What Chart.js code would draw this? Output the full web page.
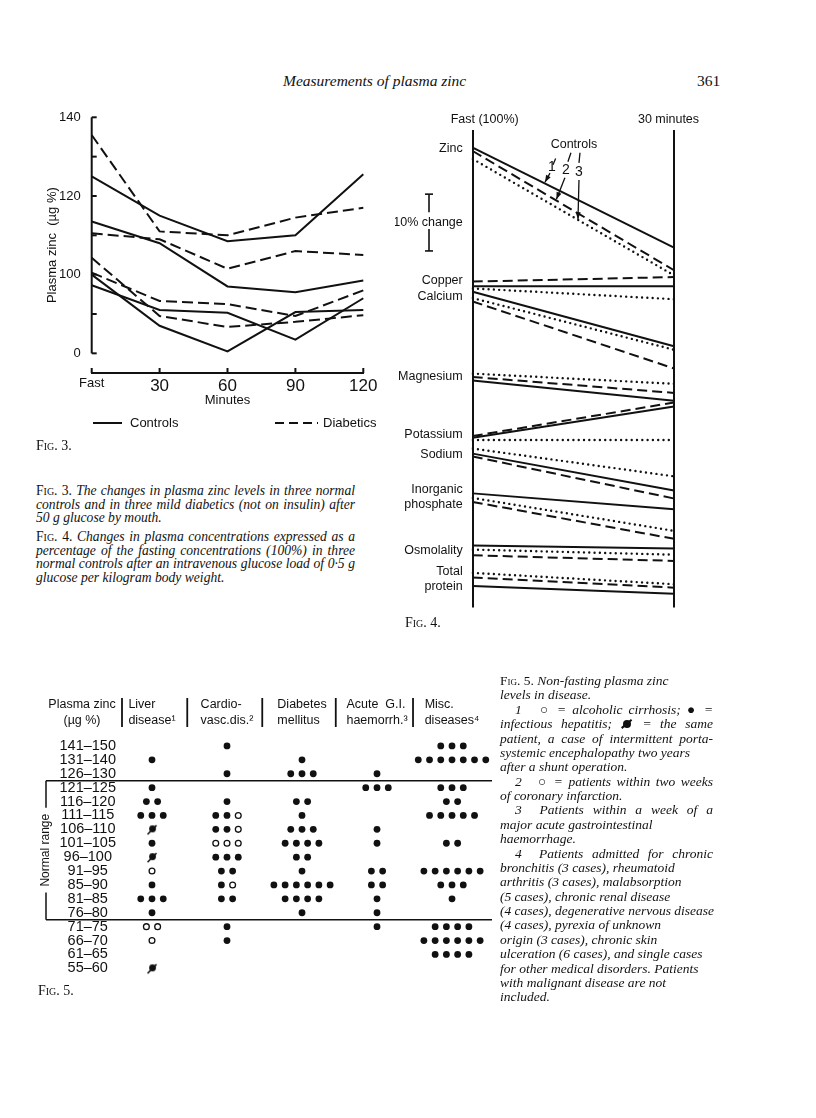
<!DOCTYPE html>
<html>
<head>
<meta charset="utf-8">
<title>Measurements of plasma zinc</title>
<script src="https://cdn.jsdelivr.net/npm/chart.js@4.4.1/dist/chart.umd.min.js"></script>
<style>
  body { margin: 0; background: #fff; }
  #page { position: relative; width: 816px; height: 1118px; overflow: hidden; color: #111; }
  .cv { position: absolute; }
  .serif { position: absolute; font-family: "Liberation Serif", "DejaVu Serif", serif; }
  .runhead { font-style: italic; font-size: 15.5px; line-height: 16px; }
  .pno { font-size: 15.5px; line-height: 16px; }
  .figlab { font-size: 14px; line-height: 14px; }
  .cap { font-style: italic; }
  .cap div { white-space: nowrap; }
  .j { text-align: justify; text-align-last: justify; }
  .sc { font-style: normal; font-variant: small-caps; }
  .rm { font-style: normal; }
  .ind { padding-left: 15px; }
  .xd { display: inline-block; width: 8px; height: 8px; border-radius: 50%; background: #111;
        position: relative; margin: 0 3px 0 2px; }
  .xd::after { content: ""; position: absolute; left: -3px; top: 3px; width: 13px; height: 1.6px;
               background: #111; transform: rotate(-40deg); }
</style>
</head>
<body>
<div id="page">
  <div class="serif runhead" style="left:283px;top:73px;">Measurements of plasma zinc</div>
  <div class="serif pno" style="left:697px;top:73px;">361</div>

  <canvas id="fig3" class="cv" width="370" height="350" style="left:30px;top:95px;"></canvas>
  <canvas id="fig4" class="cv" width="320" height="525" style="left:395px;top:100px;"></canvas>
  <canvas id="fig5" class="cv" width="460" height="300" style="left:40px;top:690px;"></canvas>

  <div class="serif figlab" style="left:36px;top:439px;"><span class="sc">Fig.</span> 3.</div>
  <div class="serif figlab" style="left:405px;top:616px;"><span class="sc">Fig.</span> 4.</div>
  <div class="serif figlab" style="left:38px;top:984px;"><span class="sc">Fig.</span> 5.</div>

  <div class="serif cap" style="left:36px;top:484px;width:319px;line-height:13.6px;font-size:13.6px;">
    <div class="j"><span class="sc">Fig.</span> <span class="rm">3.</span> The changes in plasma zinc levels in three normal</div>
    <div class="j">controls and in three mild diabetics (not on insulin) after</div>
    <div>50 g glucose by mouth.</div>
  </div>
  <div class="serif cap" style="left:36px;top:530px;width:319px;line-height:13.6px;font-size:13.6px;">
    <div class="j"><span class="sc">Fig.</span> <span class="rm">4.</span> Changes in plasma concentrations expressed as a</div>
    <div class="j">percentage of the fasting concentrations (100%) in three</div>
    <div class="j">normal controls after an intravenous glucose load of 0·5 g</div>
    <div>glucose per kilogram body weight.</div>
  </div>

  <div class="serif cap" style="left:500px;top:674px;width:213px;line-height:14.37px;font-size:13.5px;">
    <div><span class="sc">Fig.</span> <span class="rm">5.</span> Non-fasting plasma zinc</div>
    <div>levels in disease.</div>
    <div class="j ind">1&nbsp;&nbsp; ○ = alcoholic cirrhosis; ● =</div>
    <div class="j">infectious hepatitis; <span class="xd"></span> = the same</div>
    <div class="j">patient, a case of intermittent porta-</div>
    <div>systemic encephalopathy two years</div>
    <div>after a shunt operation.</div>
    <div class="j ind">2&nbsp;&nbsp; ○ = patients within two weeks</div>
    <div>of coronary infarction.</div>
    <div class="j ind">3&nbsp; Patients within a week of a</div>
    <div>major acute gastrointestinal</div>
    <div>haemorrhage.</div>
    <div class="j ind">4&nbsp; Patients admitted for chronic</div>
    <div>bronchitis (3 cases), rheumatoid</div>
    <div>arthritis (3 cases), malabsorption</div>
    <div>(5 cases), chronic renal disease</div>
    <div>(4 cases), degenerative nervous disease</div>
    <div>(4 cases), pyrexia of unknown</div>
    <div>origin (3 cases), chronic skin</div>
    <div>ulceration (6 cases), and single cases</div>
    <div>for other medical disorders. Patients</div>
    <div>with malignant disease are not</div>
    <div>included.</div>
  </div>
</div>

<script>
// ---- Fig. 3: plasma zinc (µg %) after 50 g glucose by mouth ----
const fig3Times = ["Fast", "30", "60", "90", "120"];
const control1 = [125, 115, 108.5, 110, 125.5];
const control2 = [113.5, 108, 97, 95.5, 98.5];
const control3 = [100, 87, 80.5, 90.5, 91];
const control4 = [97.3, 91, 90.3, 83.5, 94];
const diabetic1 = [135.5, 111, 110, 114.5, 117];
const diabetic2 = [110.5, 109, 101.5, 106, 105];
const diabetic3 = [104.3, 89.5, 86.7, 88, 89.7];
const diabetic4 = [100.5, 93.3, 92.5, 89.5, 96];
const fig3YTicks = [80, 90, 100, 110, 120, 130, 140];
const fig3YLabels = ["0", "", "100", "", "120", "", "140"];

// ---- Fig. 4: % of fasting level, read as % steps down from the top of the panel ----
const fig4Times = ["Fast (100%)", "30 minutes"];
const fig4Rows = ["Zinc", "Copper", "Calcium", "Magnesium", "Potassium", "Sodium",
  ["Inorganic", "phosphate"], "Osmolality", ["Total", "protein"]];
const fig4RowAt = [3.3, 26.5, 29.3, 43.5, 53.6, 57.1, 64.6, 74.0, 79.1];
const ctrl1Fast = [3.1, 27.5, 28.5, 44.1, 54.2, 57.0, 64.0, 73.2, 80.3];
const ctrl1Thirty = [20.7, 27.5, 38.1, 47.7, 48.7, 63.5, 66.8, 73.7, 81.7];
const ctrl2Fast = [3.7, 26.7, 30.2, 43.5, 53.9, 57.5, 65.5, 74.9, 78.8];
const ctrl2Thirty = [24.7, 25.9, 42.0, 46.3, 48.0, 64.9, 72.0, 75.9, 80.6];
const ctrl3Fast = [5.1, 27.9, 29.6, 42.9, 54.6, 56.1, 64.8, 73.9, 78.0];
const ctrl3Thirty = [25.6, 29.8, 38.7, 44.7, 54.6, 61.0, 70.6, 74.8, 80.0];
const tenPctFrom = 11.3;

// ---- Fig. 5: non-fasting plasma zinc in disease (f = filled, o = open, x = same patient) ----
const zincRanges = ["141–150", "131–140", "126–130", "121–125", "116–120", "111–115",
  "106–110", "101–105", "96–100", "91–95", "85–90", "81–85", "76–80", "71–75",
  "66–70", "61–65", "55–60"];
const normalFirst = 3, normalLast = 12;
const fig5Columns = [["Liver", "disease¹"], ["Cardio-", "vasc.dis.²"], ["Diabetes", "mellitus"],
  ["Acute  G.I.", "haemorrh.³"], ["Misc.", "diseases⁴"]];
const liverDisease = ["", "f", "", "f", "ff", "fff", "x", "f", "x", "o", "f", "fff", "f", "oo", "o", "", "x"];
const cardioVasc = ["f", "", "f", "", "f", "ffo", "ffo", "ooo", "fff", "ff", "fo", "ff", "", "f", "f", "", ""];
const diabetesMellitus = ["", "f", "fff", "", "ff", "f", "fff", "ffff", "ff", "f", "ffffff", "ffff", "f", "", "", "", ""];
const acuteGI = ["", "", "f", "fff", "", "", "f", "f", "", "ff", "ff", "f", "f", "f", "", "", ""];
const miscDiseases = ["fff", "fffffff", "", "fff", "ff", "fffff", "", "ff", "", "ffffff", "fff", "f", "", "ffff", "ffffff", "ffff", ""];

const ink = "#111";
const sans = "'Liberation Sans', Arial, sans-serif";
Chart.defaults.font.family = sans;
Chart.defaults.color = ink;
Chart.defaults.animation = false;

function seg(ctx, x0, y0, x1, y1) {
  ctx.beginPath(); ctx.moveTo(x0, y0); ctx.lineTo(x1, y1); ctx.stroke();
}
function arrow(ctx, x0, y0, x1, y1) {
  seg(ctx, x0, y0, x1, y1);
  const a = Math.atan2(y1 - y0, x1 - x0);
  ctx.beginPath();
  ctx.moveTo(x1, y1);
  ctx.lineTo(x1 - 7 * Math.cos(a) + 2.6 * Math.sin(a), y1 - 7 * Math.sin(a) - 2.6 * Math.cos(a));
  ctx.lineTo(x1 - 7 * Math.cos(a) - 2.6 * Math.sin(a), y1 - 7 * Math.sin(a) + 2.6 * Math.cos(a));
  ctx.closePath(); ctx.fill();
}

// ---------------- Fig. 3 ----------------
function zincLine(values, dashed) {
  return { data: values, borderColor: ink, borderWidth: 2, borderDash: dashed ? [11, 5] : [],
    pointRadius: 0, tension: 0, fill: false };
}
const fig3Deco = {
  id: "fig3Deco",
  afterDraw(chart) {
    const { ctx, chartArea: a, scales: { x, y } } = chart;
    ctx.save();
    ctx.strokeStyle = ink; ctx.fillStyle = ink; ctx.lineWidth = 2;
    seg(ctx, a.left, y.getPixelForValue(140), a.left, y.getPixelForValue(80));
    fig3YTicks.forEach(v => { const p = y.getPixelForValue(v); seg(ctx, a.left, p, a.left + 5, p); });
    fig3Times.forEach((t, i) => { const p = x.getPixelForValue(i); seg(ctx, p, a.bottom, p, a.bottom - 5); });
    // legend
    const ly = a.bottom + 50;
    ctx.font = "13px " + sans; ctx.textBaseline = "middle"; ctx.textAlign = "left";
    seg(ctx, 63, ly, 92, ly);
    ctx.fillText("Controls", 100, ly);
    ctx.setLineDash([9, 5]);
    seg(ctx, 245, ly, 288, ly);
    ctx.setLineDash([]);
    ctx.fillText("Diabetics", 293, ly);
    ctx.restore();
  }
};
new Chart(document.getElementById("fig3"), {
  type: "line",
  data: {
    labels: fig3Times,
    datasets: [control1, control2, control3, control4].map(v => zincLine(v, false))
      .concat([diabetic1, diabetic2, diabetic3, diabetic4].map(v => zincLine(v, true)))
  },
  options: {
    responsive: false,
    layout: { padding: { top: 22.3, right: 36.7, bottom: 36.6, left: 0 } },
    plugins: { legend: { display: false }, tooltip: { enabled: false } },
    scales: {
      x: {
        offset: false,
        grid: { display: false, drawTicks: false },
        border: { display: true, color: ink, width: 2 },
        ticks: { padding: 3, color: ink, font: c => ({ size: c.index === 0 ? 13 : 17 }) },
        title: { display: true, text: "Minutes", font: { size: 13 }, padding: { top: 0, bottom: 0 } },
        afterFit(s) { s.height = 35.4; }
      },
      y: {
        min: 75, max: 140,
        grid: { display: false, drawTicks: false },
        border: { display: false },
        afterBuildTicks(s) { s.ticks = fig3YTicks.map(v => ({ value: v })); },
        ticks: { padding: 11, font: { size: 13 }, autoSkip: false,
          callback: v => fig3YLabels[fig3YTicks.indexOf(v)] },
        title: { display: true, text: "Plasma zinc  (µg %)", font: { size: 13 }, padding: { top: 15, bottom: 0 } },
        afterFit(s) { s.width = 61.7; }
      }
    }
  },
  plugins: [fig3Deco]
});

// ---------------- Fig. 4 ----------------
const styles4 = [
  { fast: ctrl1Fast, thirty: ctrl1Thirty, dash: [], cap: "butt", w: 2 },
  { fast: ctrl2Fast, thirty: ctrl2Thirty, dash: [10, 5], cap: "butt", w: 2 },
  { fast: ctrl3Fast, thirty: ctrl3Thirty, dash: [0, 5.3], cap: "round", w: 2.4 }
];
const fig4Sets = [];
styles4.forEach(s => s.fast.forEach((v, i) => fig4Sets.push({
  data: [v, s.thirty[i]], borderColor: ink, borderWidth: s.w, borderDash: s.dash,
  borderCapStyle: s.cap, pointRadius: 0, tension: 0, fill: false
})));
const fig4Deco = {
  id: "fig4Deco",
  afterDraw(chart) {
    const { ctx, chartArea: a, scales: { x, y } } = chart;
    const fx = f => a.left + f * (a.right - a.left);
    ctx.save();
    ctx.strokeStyle = ink; ctx.fillStyle = ink;
    ctx.font = "12.5px " + sans; ctx.textAlign = "center"; ctx.textBaseline = "middle";
    // column heads, set slightly off their time lines as printed
    [12, -5.5].forEach((dx, i) => ctx.fillText(fig4Times[i], x.getPixelForValue(i) + dx, a.top - 10));
    // 10% change bar
    const bx = 34, b0 = y.getPixelForValue(tenPctFrom), b1 = y.getPixelForValue(tenPctFrom + 10);
    ctx.lineWidth = 1.6;
    seg(ctx, bx, b0, bx, b0 + 18); seg(ctx, bx - 4, b0, bx + 4, b0);
    seg(ctx, bx, b1 - 22, bx, b1); seg(ctx, bx - 4, b1, bx + 4, b1);
    ctx.fillText("10% change", bx - 1, (b0 + b1) / 2);
    // Controls 1 2 3 labels with arrows
    ctx.fillText("Controls", fx(0.503), y.getPixelForValue(2.6));
    ctx.font = "14px " + sans;
    ctx.fillText("1", fx(0.394), y.getPixelForValue(6.6));
    ctx.fillText("2", fx(0.463), y.getPixelForValue(7.0));
    ctx.fillText("3", fx(0.528), y.getPixelForValue(7.5));
    ctx.lineWidth = 1.3;
    seg(ctx, fx(0.412), y.getPixelForValue(5.0), fx(0.399), y.getPixelForValue(6.1));
    seg(ctx, fx(0.488), y.getPixelForValue(4.0), fx(0.473), y.getPixelForValue(5.6));
    seg(ctx, fx(0.533), y.getPixelForValue(4.0), fx(0.528), y.getPixelForValue(5.8));
    arrow(ctx, fx(0.384), y.getPixelForValue(7.6), fx(0.359), y.getPixelForValue(9.2));
    arrow(ctx, fx(0.458), y.getPixelForValue(8.4), fx(0.416), y.getPixelForValue(12.2));
    arrow(ctx, fx(0.528), y.getPixelForValue(8.8), fx(0.523), y.getPixelForValue(15.7));
    ctx.restore();
  }
};
new Chart(document.getElementById("fig4"), {
  type: "line",
  data: { labels: fig4Times, datasets: fig4Sets },
  options: {
    responsive: false,
    layout: { padding: { top: 0, right: 41, bottom: 13, left: 0 } },
    plugins: { legend: { display: false }, tooltip: { enabled: false } },
    scales: {
      x: {
        position: "top", offset: false,
        grid: { color: ink, lineWidth: 2, drawTicks: false },
        border: { display: false },
        ticks: { display: false },
        afterFit(s) { s.height = 30; }
      },
      y: {
        reverse: true, min: 0, max: 84.1,
        grid: { display: false, drawTicks: false },
        border: { display: false },
        afterBuildTicks(s) { s.ticks = fig4RowAt.map(v => ({ value: v })); },
        ticks: { padding: 10, autoSkip: false, font: { size: 12.5 }, callback: (v, i) => fig4Rows[i] },
        afterFit(s) { s.width = 77.7; }
      }
    }
  },
  plugins: [fig4Deco]
});

// ---------------- Fig. 5 ----------------
function crossedDot() {
  const c = document.createElement("canvas");
  c.width = 14; c.height = 14;
  const g = c.getContext("2d");
  g.fillStyle = ink; g.strokeStyle = ink;
  g.beginPath(); g.arc(7.5, 6.5, 3.4, 0, Math.PI * 2); g.fill();
  g.lineWidth = 1.6;
  g.beginPath(); g.moveTo(2.5, 12); g.lineTo(11.5, 3); g.stroke();
  return c;
}
const dotStep = 0.15;
const marks = { f: [], o: [], x: [] };
[liverDisease, cardioVasc, diabetesMellitus, acuteGI, miscDiseases].forEach((col, c) =>
  col.forEach((s, r) => [...s].forEach((m, k) =>
    marks[m].push({ x: c + (k - (s.length - 1) / 2) * dotStep, y: r }))));

const fig5Deco = {
  id: "fig5Deco",
  afterDraw(chart) {
    const { ctx, chartArea: a, scales: { x, y } } = chart;
    ctx.save();
    ctx.fillStyle = ink; ctx.strokeStyle = ink;
    ctx.font = "12.5px " + sans; ctx.textBaseline = "middle";
    const h1 = 15, h2 = 31;
    ctx.textAlign = "center";
    ctx.fillText("Plasma zinc", 42, h1);
    ctx.fillText("(µg %)", 42, h2);
    ctx.textAlign = "left";
    fig5Columns.forEach((lines, c) => {
      const cx = x.getPixelForValue(c);
      const w = Math.max(...lines.map(t => ctx.measureText(t).width));
      lines.forEach((t, k) => ctx.fillText(t, cx - w / 2, k ? h2 : h1));
    });
    ctx.lineWidth = 1.8;
    [-0.4, 0.47, 1.47, 2.45, 3.48].forEach(v => {
      const p = x.getPixelForValue(v); seg(ctx, p, 8, p, 37);
    });
    // normal range
    const yTop = y.getPixelForValue(normalFirst - 0.5), yBot = y.getPixelForValue(normalLast + 0.5);
    ctx.lineWidth = 1.5;
    seg(ctx, 6, yTop, a.right, yTop);
    seg(ctx, 6, yBot, a.right, yBot);
    ctx.font = "12px " + sans;
    const ym = (yTop + yBot) / 2, half = ctx.measureText("Normal range").width / 2 + 6;
    seg(ctx, 6, yTop, 6, ym - half);
    seg(ctx, 6, ym + half, 6, yBot);
    ctx.translate(6, ym); ctx.rotate(-Math.PI / 2);
    ctx.textAlign = "center";
    ctx.fillText("Normal range", 0, 0);
    ctx.restore();
  }
};
new Chart(document.getElementById("fig5"), {
  type: "scatter",
  data: {
    datasets: [
      { data: marks.f, pointStyle: "circle", pointRadius: 3.4, backgroundColor: ink, borderColor: ink, borderWidth: 0 },
      { data: marks.o, pointStyle: "circle", pointRadius: 2.9, backgroundColor: "#fff", borderColor: ink, borderWidth: 1.3 },
      { data: marks.x, pointStyle: crossedDot(), pointRadius: 4 }
    ]
  },
  options: {
    responsive: false,
    layout: { padding: { top: 49, right: 8, bottom: 11, left: 0 } },
    plugins: { legend: { display: false }, tooltip: { enabled: false } },
    scales: {
      x: { type: "linear", min: -0.4, max: 4.533, display: false },
      y: {
        type: "linear", reverse: true, min: -0.5, max: 16.5,
        grid: { display: false, drawTicks: false },
        border: { display: false },
        afterBuildTicks(s) { s.ticks = zincRanges.map((t, i) => ({ value: i })); },
        ticks: { autoSkip: false, crossAlign: "center", padding: 6, font: { size: 14.5 },
          callback: (v, i) => zincRanges[i] },
        afterFit(s) { s.width = 82; }
      }
    }
  },
  plugins: [fig5Deco]
});
</script>
</body>
</html>
